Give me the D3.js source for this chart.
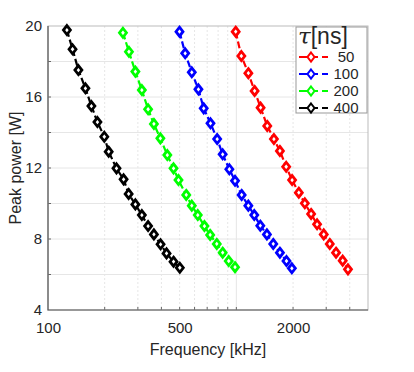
<!DOCTYPE html>
<html>
<head>
<meta charset="utf-8">
<script src="https://cdn.jsdelivr.net/npm/d3@7"></script>
<style>
  body { margin: 0; background: #fff; }
  text { font-family: "Liberation Sans", Arial, sans-serif; fill: #262626; }
</style>
</head>
<body>
<svg width="414" height="372"></svg>
<script>
// pulse durations (legend) and their colours
var taus = ["50", "100", "200", "400"];
var colors = ["#ff0000", "#0000ff", "#00ff00", "#000000"];

// frequency [kHz] and peak power [W]
var freq50  = [992, 1063, 1158, 1250, 1345, 1459, 1583, 1703, 1839, 1977, 2146, 2310, 2494, 2683, 2911, 3133, 3383, 3669, 3914];
var power50 = [19.68, 18.31, 17.34, 16.34, 15.40, 14.37, 13.63, 12.96, 12.07, 11.32, 10.61, 10.01, 9.41, 8.83, 8.26, 7.72, 7.23, 6.78, 6.29];
var freq100  = [499, 535, 580, 629, 671, 729, 791, 846, 918, 984, 1067, 1158, 1245, 1340, 1453, 1570, 1703, 1846, 1971];
var power100 = [19.68, 18.46, 17.39, 16.43, 15.36, 14.52, 13.63, 12.77, 11.93, 11.28, 10.48, 9.88, 9.35, 8.75, 8.26, 7.72, 7.23, 6.76, 6.35];
var freq200  = [250, 269, 291, 315, 340, 365, 395, 430, 464, 493, 542, 580, 624, 677, 726, 787, 846, 911, 984];
var power200 = [19.62, 18.55, 17.43, 16.39, 15.31, 14.48, 13.67, 12.73, 11.98, 11.32, 10.48, 9.88, 9.35, 8.73, 8.23, 7.72, 7.23, 6.76, 6.41];
var freq400  = [126, 135, 145, 158, 170, 183, 199, 210, 231, 252, 268, 291, 315, 340, 365, 396, 426, 464, 501];
var power400 = [19.77, 18.69, 17.52, 16.49, 15.49, 14.59, 13.76, 12.92, 11.98, 11.36, 10.54, 9.95, 9.35, 8.73, 8.26, 7.70, 7.19, 6.72, 6.38];

var xTicks = [100, 500, 2000];
var yTicks = [4, 8, 12, 16, 20];
var xGrid = [200, 300, 400, 500, 600, 700, 800, 900, 1000, 2000, 3000, 4000];
var yGrid = [6, 8, 10, 12, 14, 16, 18];

var series = [
  { tau: taus[0], color: colors[0], f: freq50, p: power50 },
  { tau: taus[1], color: colors[1], f: freq100, p: power100 },
  { tau: taus[2], color: colors[2], f: freq200, p: power200 },
  { tau: taus[3], color: colors[3], f: freq400, p: power400 }
];

var svg = d3.select("svg");
var pLeft = 48, pRight = 368, pTop = 26, pBottom = 310;

var x = d3.scaleLog().domain([100, 5000]).range([pLeft, pRight]);
var y = d3.scaleLinear().domain([4, 20]).range([pBottom, pTop]);

// grid
svg.append("g").selectAll("line").data(xGrid).enter().append("line")
  .attr("x1", function(d) { return x(d); }).attr("x2", function(d) { return x(d); })
  .attr("y1", pTop).attr("y2", pBottom)
  .attr("stroke", "#e6e6e6").attr("stroke-width", 1)
  .attr("stroke-dasharray", function(d) { return (d === 1000) ? null : "2,2"; });
svg.append("g").selectAll("line").data(yGrid).enter().append("line")
  .attr("x1", pLeft).attr("x2", pRight)
  .attr("y1", function(d) { return y(d); }).attr("y2", function(d) { return y(d); })
  .attr("stroke", "#e6e6e6").attr("stroke-width", 1);

// axes
var xAxis = d3.axisBottom(x).tickValues(xTicks).tickFormat(d3.format("d")).tickSize(0).tickPadding(12);
var yAxis = d3.axisLeft(y).tickValues(yTicks).tickSize(0).tickPadding(6);
var gx = svg.append("g").attr("transform", "translate(0," + pBottom + ")").call(xAxis);
var gy = svg.append("g").attr("transform", "translate(" + pLeft + ",0)").call(yAxis);
[gx, gy].forEach(function(g) {
  g.select(".domain").remove();
  g.selectAll("text").style("font-size", "15px").attr("fill", "#262626")
    .style("font-family", "'Liberation Sans', Arial, sans-serif");
});

// small inward ticks
svg.append("g").selectAll("line").data(xGrid).enter().append("line")
  .attr("x1", function(d) { return x(d); }).attr("x2", function(d) { return x(d); })
  .attr("y1", pBottom).attr("y2", pBottom - 3)
  .attr("stroke", "#666");
svg.append("g").selectAll("line").data(yGrid).enter().append("line")
  .attr("x1", pLeft).attr("x2", pLeft + 3)
  .attr("y1", function(d) { return y(d); }).attr("y2", function(d) { return y(d); })
  .attr("stroke", "#666");

// frame
svg.append("rect").attr("x", pLeft).attr("y", pTop)
  .attr("width", pRight - pLeft).attr("height", pBottom - pTop)
  .attr("fill", "none").attr("stroke", "#bbb").attr("stroke-width", 1);
svg.append("path")
  .attr("d", "M" + pLeft + "," + pTop + "V" + pBottom + "H" + pRight)
  .attr("fill", "none").attr("stroke", "#555").attr("stroke-width", 1.2);

// axis titles
svg.append("text").attr("x", (pLeft + pRight) / 2).attr("y", 355)
  .attr("text-anchor", "middle").style("font-size", "16px").text("Frequency [kHz]");
svg.append("text").attr("transform", "translate(21," + (pTop + pBottom) / 2 + ") rotate(-90)")
  .attr("text-anchor", "middle").style("font-size", "16px").text("Peak power [W]");

// series
var diamond = "M0,-4.5L3.5,0L0,4.5L-3.5,0Z";
var line = d3.line()
  .x(function(d) { return x(d[0]); })
  .y(function(d) { return y(d[1]); });

series.forEach(function(s) {
  var pts = d3.zip(s.f, s.p);
  svg.append("path").datum(pts)
    .attr("d", line)
    .attr("fill", "none").attr("stroke", s.color)
    .attr("stroke-width", 2.2).attr("stroke-dasharray", "7,3");
  svg.append("g").selectAll("path").data(pts).enter().append("path")
    .attr("d", diamond)
    .attr("transform", function(d) { return "translate(" + x(d[0]) + "," + y(d[1]) + ")"; })
    .attr("fill", "#fff").attr("stroke", s.color).attr("stroke-width", 2.8);
});

// legend
var lg = svg.append("g");
lg.append("rect").attr("x", 296).attr("y", 27).attr("width", 71).attr("height", 86)
  .attr("fill", "#fff").attr("stroke", "#999").attr("stroke-width", 1);
lg.append("text").attr("x", 298).attr("y", 44)
  .style("font-size", "23px").attr("fill", "#111")
  .html('<tspan font-style="italic" style="font-family:\'DejaVu Serif\', serif">τ</tspan><tspan>[ns]</tspan>');
var rows = lg.selectAll(".row").data(series).enter().append("g")
  .attr("transform", function(d, i) { return "translate(0," + (57 + i * 17) + ")"; });
rows.append("line").attr("x1", 299).attr("x2", 318).attr("y1", 0).attr("y2", 0)
  .attr("stroke", function(d) { return d.color; }).attr("stroke-width", 2);
rows.append("line").attr("x1", 322).attr("x2", 328).attr("y1", 0).attr("y2", 0)
  .attr("stroke", function(d) { return d.color; }).attr("stroke-width", 2);
rows.append("path").attr("d", diamond).attr("transform", "translate(311,0)")
  .attr("fill", "#fff").attr("stroke", function(d) { return d.color; }).attr("stroke-width", 2);
rows.append("text").attr("x", 346).attr("y", 5).attr("text-anchor", "middle")
  .style("font-size", "15px").attr("fill", "#111")
  .text(function(d) { return d.tau; });
</script>
</body>
</html>
